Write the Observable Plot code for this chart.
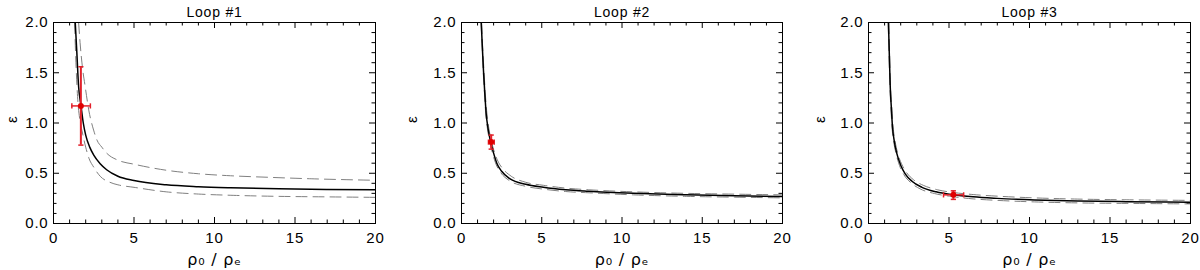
<!DOCTYPE html>
<html><head><meta charset="utf-8">
<script src="https://cdn.jsdelivr.net/npm/d3@7"></script>
<script src="https://cdn.jsdelivr.net/npm/@observablehq/plot@0.6"></script>
<style>
body{margin:0;background:#fff;}
#wrap{display:flex;width:1200px;height:270px;}
#wrap > div{width:400px;height:270px;}
#wrap text{letter-spacing:0.8px;}
</style></head><body><div id="wrap"></div>
<script>
// ---- data ----
const titles = ["Loop #1", "Loop #2", "Loop #3"];
const xMajor = [0, 5, 10, 15, 20];
const xMinor = [1,2,3,4,6,7,8,9,11,12,13,14,16,17,18,19];
const yMajor = [0, 0.5, 1.0, 1.5, 2.0];
const yMinor = [0.1,0.2,0.3,0.4,0.6,0.7,0.8,0.9,1.1,1.2,1.3,1.4,1.6,1.7,1.8,1.9];

// Loop 1
const loop1Rho   = [1.35,1.45,1.56,1.71,1.85,2.0,2.25,2.5,2.9,3.3,4,5,7,9,11,14,17,20];
const loop1Eps   = [2.0,1.7,1.36,1.17,1.0,0.88,0.76,0.68,0.595,0.535,0.47,0.427,0.385,0.366,0.355,0.345,0.339,0.335];
const loop1UpRho = [1.56,1.65,1.8,1.97,2.2,2.49,2.7,3.0,3.3,4.0,5,7,9,11,13.3,16,20];
const loop1UpEps = [2.0,1.8,1.55,1.36,1.12,0.93,0.83,0.76,0.70,0.63,0.59,0.53,0.495,0.475,0.46,0.445,0.43];
const loop1LoRho = [1.31,1.37,1.46,1.52,1.62,1.8,2.0,2.2,2.5,2.9,3.5,4,5,7,9,11.2,14,17,20];
const loop1LoEps = [2.0,1.7,1.36,1.2,1.05,0.9,0.76,0.65,0.56,0.47,0.41,0.385,0.36,0.315,0.293,0.28,0.27,0.265,0.26];

// Loop 2
const loop2Rho   = [1.23,1.3,1.37,1.45,1.54,1.65,1.79,2.0,2.2,2.5,3.03,4,5.1,6.5,7.9,10.7,14,17,20];
const loop2Eps   = [2.0,1.75,1.52,1.3,1.09,0.95,0.83,0.7,0.6,0.52,0.444,0.39,0.36,0.335,0.32,0.3,0.285,0.275,0.268];
const loop2UpRho = [1.25,1.32,1.4,1.48,1.58,1.7,1.85,2.05,2.3,2.6,3.1,4,5.1,6.5,8,10.7,14,17,20];
const loop2UpEps = [2.0,1.75,1.52,1.3,1.1,0.95,0.83,0.71,0.61,0.54,0.47,0.41,0.38,0.352,0.335,0.315,0.3,0.292,0.285];
const loop2LoRho = [1.22,1.29,1.35,1.43,1.51,1.61,1.74,1.95,2.15,2.45,3.0,4,5.1,6.5,8,10.7,14,17,20];
const loop2LoEps = [2.0,1.75,1.52,1.3,1.09,0.95,0.83,0.69,0.59,0.505,0.425,0.37,0.342,0.318,0.305,0.285,0.27,0.262,0.255];

// Loop 3
const loop3Rho   = [1.24,1.29,1.35,1.42,1.49,1.6,1.77,2.0,2.28,2.7,3.32,4.2,5.25,6.5,8,10.3,13,16,20];
const loop3Eps   = [2.0,1.7,1.36,1.15,0.96,0.82,0.69,0.58,0.494,0.42,0.36,0.315,0.286,0.265,0.25,0.235,0.224,0.217,0.211];
const loop3UpRho = [1.26,1.31,1.37,1.45,1.53,1.65,1.83,2.08,2.37,2.8,3.4,4.3,5.3,6.5,8,10.3,13,16,20];
const loop3UpEps = [2.0,1.7,1.36,1.15,0.96,0.82,0.69,0.585,0.505,0.435,0.38,0.335,0.308,0.288,0.272,0.255,0.243,0.236,0.23];
const loop3LoRho = [1.22,1.27,1.33,1.39,1.46,1.56,1.72,1.93,2.2,2.6,3.2,4.1,5.2,6.5,8,10.3,13,16,20];
const loop3LoEps = [2.0,1.7,1.36,1.15,0.96,0.82,0.69,0.575,0.485,0.41,0.345,0.298,0.268,0.245,0.23,0.215,0.205,0.2,0.195];

// observed points with error bars
const obsRho   = [1.70, 1.85, 5.27];
const obsRhoLo = [1.14, 1.68, 4.66];
const obsRhoHi = [2.29, 2.04, 5.91];
const obsEps   = [1.17, 0.81, 0.285];
const obsEpsLo = [0.78, 0.74, 0.24];
const obsEpsHi = [1.56, 0.88, 0.325];

// ---- build ----
const zip = (xs, ys) => xs.map((x, i) => ({x, y: ys[i]}));
const curves = [
  {solid: zip(loop1Rho, loop1Eps), up: zip(loop1UpRho, loop1UpEps), lo: zip(loop1LoRho, loop1LoEps)},
  {solid: zip(loop2Rho, loop2Eps), up: zip(loop2UpRho, loop2UpEps), lo: zip(loop2LoRho, loop2LoEps)},
  {solid: zip(loop3Rho, loop3Eps), up: zip(loop3UpRho, loop3UpEps), lo: zip(loop3LoRho, loop3LoEps)}
];
const layout = [{ml: 53, mr: 25, yl: -41.5}, {ml: 61, mr: 18, yl: -49.5}, {ml: 68, mr: 10, yl: -48.5}];
const RED = "#e2202a";
const capH = {draw(c, s) { const r = Math.sqrt(s / Math.PI); c.moveTo(-r, 0); c.lineTo(r, 0); }};
const capV = {draw(c, s) { const r = Math.sqrt(s / Math.PI); c.moveTo(0, -r); c.lineTo(0, r); }};

const wrap = document.getElementById("wrap");
for (let i = 0; i < 3; i++) {
  const {ml, mr, yl} = layout[i];
  const W = 400, H = 270, mt = 22, mb = 47;
  const fw = W - ml - mr, fh = H - mt - mb;
  const obs = [{x: obsRho[i], xlo: obsRhoLo[i], xhi: obsRhoHi[i], y: obsEps[i], ylo: obsEpsLo[i], yhi: obsEpsHi[i]}];
  const c = curves[i];
  const chart = Plot.plot({
    width: W, height: H,
    marginLeft: ml, marginRight: mr, marginTop: mt, marginBottom: mb,
    x: {domain: [0, 20]},
    y: {domain: [0, 2]},
    style: {fontFamily: "'Liberation Sans', Arial, sans-serif", fontSize: "15px", background: "white", color: "black", overflow: "visible"},
    marks: [
      Plot.tickX(xMajor, {x: d => d, insetTop: fh - 6, stroke: "black"}),
      Plot.tickX(xMajor, {x: d => d, insetBottom: fh - 6, stroke: "black"}),
      Plot.tickX(xMinor, {x: d => d, insetTop: fh - 3.5, stroke: "black"}),
      Plot.tickX(xMinor, {x: d => d, insetBottom: fh - 3.5, stroke: "black"}),
      Plot.tickY(yMajor, {y: d => d, insetRight: fw - 6, stroke: "black"}),
      Plot.tickY(yMajor, {y: d => d, insetLeft: fw - 6, stroke: "black"}),
      Plot.tickY(yMinor, {y: d => d, insetRight: fw - 3.5, stroke: "black"}),
      Plot.tickY(yMinor, {y: d => d, insetLeft: fw - 3.5, stroke: "black"}),
      Plot.axisX({ticks: xMajor, tickSize: 0, tickPadding: 9, label: null, tickFormat: d3.format("d"), fontSize: 15}),
      Plot.axisY({ticks: yMajor, tickSize: 0, tickPadding: 5, label: null, tickFormat: d3.format(".1f"), fontSize: 15}),
      Plot.line(c.lo, {x: "x", y: "y", stroke: "#808080", strokeWidth: 1, strokeDasharray: "11,6", curve: "monotone-x", clip: true}),
      Plot.line(c.up, {x: "x", y: "y", stroke: "#808080", strokeWidth: 1, strokeDasharray: "11,6", curve: "monotone-x", clip: true}),
      Plot.line(c.solid, {x: "x", y: "y", stroke: "black", strokeWidth: 1.5, curve: "monotone-x", clip: true}),
      Plot.ruleX(obs, {x: "x", y1: "ylo", y2: "yhi", stroke: RED, strokeWidth: 2}),
      Plot.ruleY(obs, {y: "y", x1: "xlo", x2: "xhi", stroke: RED, strokeWidth: 1.5}),
      Plot.dot(obs, {x: "x", y: "ylo", symbol: capH, r: 2.6, stroke: RED, strokeWidth: 1.5}),
      Plot.dot(obs, {x: "x", y: "yhi", symbol: capH, r: 2.6, stroke: RED, strokeWidth: 1.5}),
      Plot.dot(obs, {x: "xlo", y: "y", symbol: capV, r: 2.6, stroke: RED, strokeWidth: 1.5}),
      Plot.dot(obs, {x: "xhi", y: "y", symbol: capV, r: 2.6, stroke: RED, strokeWidth: 1.5}),
      Plot.dot(obs, {x: "x", y: "y", r: 3, fill: "#e00000", stroke: "none"}),
      Plot.frame({stroke: "black", strokeWidth: 1}),
      Plot.text([titles[i]], {text: d => d, frameAnchor: "top", dy: -10, fontSize: 14, lineAnchor: "middle"}),
      Plot.text(["ε"], {text: d => d, frameAnchor: "left", dx: yl, rotate: -90, fontSize: 15, lineAnchor: "middle"}),
      Plot.text(["ρ₀ / ρₑ"], {text: d => d, frameAnchor: "bottom", dy: 36, fontSize: 16, lineAnchor: "middle", fontFamily: "'DejaVu Sans', sans-serif"})
    ]
  });
  const d = document.createElement("div");
  d.appendChild(chart);
  wrap.appendChild(d);
}
</script></body></html>
